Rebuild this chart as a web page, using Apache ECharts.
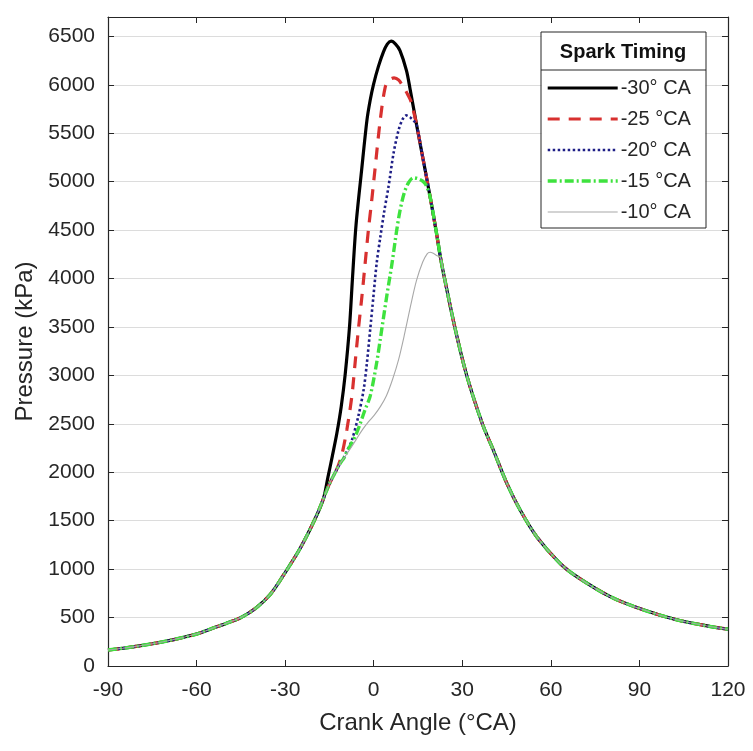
<!DOCTYPE html>
<html>
<head>
<meta charset="utf-8">
<script src="https://cdn.jsdelivr.net/npm/echarts@6/dist/echarts.min.js"></script>
<style>
html,body{margin:0;padding:0;background:#fff;}
#chart{width:753px;height:751px;}
</style>
</head>
<body>
<div id="chart"></div>
<script>
// ---- Data (crank angle in °CA, pressure in kPa) ----
const seriesNames = ['-30° CA', '-25 °CA', '-20° CA', '-15 °CA', '-10° CA'];
const xTicks = [-90, -60, -30, 0, 30, 60, 90, 120];

// shared compression stroke (before combustion)
const compressionCA = [-90, -85, -80, -75, -70, -65, -60, -55, -50, -45, -40, -35, -30, -25, -20, -17];
const compressionP  = [165, 183, 205, 230, 258, 292, 330, 385, 440, 500, 595, 740, 965, 1210, 1510, 1730];

// shared expansion stroke (after combustion)
const expansionCA = [14.5, 16.8, 19.1, 21.2, 22.6, 23.8, 27.6, 31.5, 36.8, 40.5, 45.1, 49.6, 55.2, 63.1, 68.8, 80.1, 91.3, 102.6, 113.9, 120];
const expansionP  = [5590, 5220, 4844, 4480, 4220, 4030, 3480, 3000, 2500, 2230, 1885, 1610, 1335, 1060, 922, 716, 580, 477, 408, 380];

// combustion part of each curve
const st30CA = [-15.5, -14, -12.5, -11, -9.7, -8.2, -7.2, -6.0, -4.1, -2.3, -1.2, -0.1, 1.6, 3.3, 4.6, 5.9, 7.4, 8.9, 11.1, 12.3];
const st30P  = [1950, 2170, 2400, 2680, 3000, 3500, 4000, 4550, 5118, 5633, 5840, 6000, 6190, 6340, 6420, 6450, 6420, 6353, 6147, 5960];

const st25CA = [-15, -13, -12, -10.8, -9.1, -7.4, -6.3, -5.2, -4.0, -2.9, -1.8, -0.7, 0.4, 2.2, 3.9, 5.3, 6.9, 8.4, 10.1, 11.5, 12.6];
const st25P  = [1880, 2000, 2070, 2180, 2440, 2786, 3130, 3472, 3815, 4158, 4501, 4800, 5118, 5633, 5976, 6050, 6072, 6050, 5975, 5900, 5830];

const st20CA = [-15, -13, -11.2, -10, -8.9, -7.4, -5.2, -3.4, -2.3, -1.2, -0.1, 1.0, 2.2, 3.6, 5.0, 6.7, 8.4, 9.7, 11.0, 12.3, 13.5];
const st20P  = [1880, 2000, 2100, 2160, 2230, 2330, 2580, 2855, 3130, 3472, 3815, 4158, 4420, 4700, 4946, 5290, 5530, 5640, 5684, 5665, 5630];

const st15CA = [-15, -13, -11.2, -10, -9.1, -7.5, -6, -4.6, -3, -1.2, 1.0, 2.7, 4.4, 6.2, 7.8, 8.9, 10.3, 11.8, 13.4, 15.0, 16.6, 17.8];
const st15P  = [1880, 2000, 2100, 2150, 2210, 2300, 2390, 2500, 2640, 2786, 3130, 3472, 3815, 4158, 4501, 4700, 4880, 4990, 5040, 5030, 5005, 4960];

const st10CA = [-15, -13, -11.2, -10, -8, -5.9, -3.8, -1.8, 0.2, 2.3, 4.3, 6.4, 8.4, 10.4, 12.5, 14.5, 16.6, 18.1, 19.1, 20.3, 21.5];
const st10P  = [1880, 2000, 2100, 2150, 2240, 2340, 2440, 2520, 2590, 2680, 2790, 2960, 3160, 3420, 3720, 3980, 4170, 4255, 4272, 4258, 4235];

// ---- build series data ----
function build(ca, p) {
  const out = [];
  for (let i = 0; i < compressionCA.length; i++) if (compressionCA[i] < ca[0]) out.push([compressionCA[i], compressionP[i]]);
  for (let i = 0; i < ca.length; i++) out.push([ca[i], p[i]]);
  const last = ca[ca.length - 1];
  for (let i = 0; i < expansionCA.length; i++) if (expansionCA[i] > last) out.push([expansionCA[i], expansionP[i]]);
  return out;
}

const font = 'Liberation Sans, Arial, Helvetica, sans-serif';
const ink = '#262626';

const styles = [
  { color: '#000000', width: 3.2, type: 'solid' },
  { color: '#d8302f', width: 3.2, type: [12, 9] },
  { color: '#1e1e86', width: 2.6, type: [2.5, 2.5] },
  { color: '#3ee23e', width: 3.4, type: [9, 3, 2, 3] },
  { color: '#a8a8a8', width: 1.1, type: 'solid' }
];
const rawData = [[st30CA, st30P], [st25CA, st25P], [st20CA, st20P], [st15CA, st15P], [st10CA, st10P]];

const series = rawData.map((d, i) => ({
  name: seriesNames[i],
  type: 'line',
  data: build(d[0], d[1]),
  showSymbol: false,
  symbol: 'none',
  smooth: 0.3,
  color: styles[i].color,
  lineStyle: { color: styles[i].color, width: styles[i].width, type: styles[i].type },
  animation: false
}));

const chart = echarts.init(document.getElementById('chart'), null, { renderer: 'canvas' });

chart.setOption({
  backgroundColor: '#ffffff',
  animation: false,
  grid: { left: 108, right: 25, top: 17, bottom: 85, show: false },
  xAxis: [
    {
      type: 'value', min: xTicks[0], max: xTicks[xTicks.length - 1], interval: 30,
      position: 'bottom',
      name: 'Crank Angle (°CA)', nameLocation: 'middle', nameGap: 45,
      nameTextStyle: { fontFamily: font, fontSize: 24, color: ink },
      axisLine: { show: true, onZero: false, lineStyle: { color: ink, width: 1.2 } },
      axisTick: { show: true, inside: true, length: 6, lineStyle: { color: ink } },
      axisLabel: { fontFamily: font, fontSize: 21, color: ink, margin: 14 },
      splitLine: { show: false }
    },
    {
      type: 'value', min: xTicks[0], max: xTicks[xTicks.length - 1], interval: 30,
      position: 'top',
      axisLine: { show: true, onZero: false, lineStyle: { color: ink, width: 1.2 } },
      axisTick: { show: true, inside: true, length: 6, lineStyle: { color: ink } },
      axisLabel: { show: false },
      splitLine: { show: false }
    }
  ],
  yAxis: [
    {
      type: 'value', min: 0, max: 6700, interval: 500,
      position: 'left',
      name: 'Pressure (kPa)', nameLocation: 'middle', nameGap: 70,
      nameTextStyle: { fontFamily: font, fontSize: 24, color: ink },
      axisLine: { show: true, onZero: false, lineStyle: { color: ink, width: 1.2 } },
      axisTick: { show: true, inside: true, length: 6, lineStyle: { color: ink } },
      axisLabel: { fontFamily: font, fontSize: 21, color: ink, margin: 13,
        formatter: v => (v % 500 === 0 ? String(v) : '') },
      splitLine: { show: true, lineStyle: { color: '#dcdcdc', width: 1 } }
    },
    {
      type: 'value', min: 0, max: 6700, interval: 500,
      position: 'right',
      axisLine: { show: true, onZero: false, lineStyle: { color: ink, width: 1.2 } },
      axisTick: { show: true, inside: true, length: 6, lineStyle: { color: ink } },
      axisLabel: { show: false },
      splitLine: { show: false }
    }
  ],
  legend: {
    data: seriesNames,
    orient: 'vertical',
    left: 546, top: 78,
    padding: 0,
    itemWidth: 70, itemHeight: 20, itemGap: 11,
    selectedMode: false,
    itemStyle: { opacity: 0 },
    lineStyle: { width: 'inherit' },
    textStyle: { fontFamily: font, fontSize: 20, color: ink, padding: [0, 0, 0, -2] },
    backgroundColor: 'transparent'
  },
  graphic: [
    { type: 'rect', z: 1, x: 541.5, y: 32.5,
      shape: { x: 0, y: 0, width: 164, height: 195 },
      style: { fill: '#ffffff' } },
    { type: 'rect', z: 100, x: 541, y: 32,
      shape: { x: 0, y: 0, width: 165, height: 196 },
      style: { fill: 'rgba(255,255,255,0)', stroke: ink, lineWidth: 1 } },
    { type: 'line', z: 100,
      shape: { x1: 541, y1: 70, x2: 706, y2: 70 },
      style: { stroke: ink, lineWidth: 1 } },
    { type: 'text', z: 100, x: 623, y: 52,
      style: { text: 'Spark Timing', align: 'center', verticalAlign: 'middle',
        font: 'bold 20px ' + font, fill: '#111' } }
  ],
  series: series
});
</script>
</body>
</html>
